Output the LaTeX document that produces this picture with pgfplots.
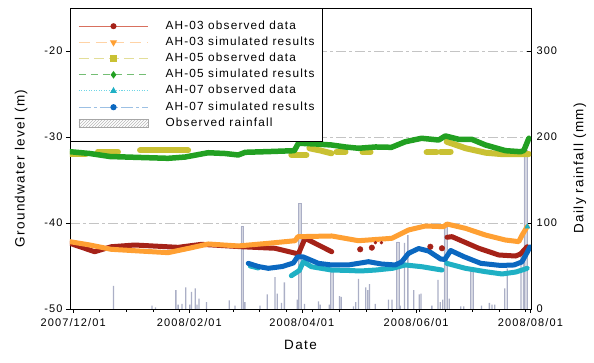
\documentclass[border=0pt]{standalone}
\usepackage{fontspec}
\setmainfont{Liberation Sans}[LetterSpace=10]
\usepackage{pgfplots}
\pgfplotsset{compat=1.18}
\usetikzlibrary{patterns}

\definecolor{ahthreeobs}{HTML}{A52218}
\definecolor{ahthreeobsl}{HTML}{D8705E}
\definecolor{ahthreesim}{HTML}{FFA033}
\definecolor{ahthreesiml}{HTML}{FFD3A6}
\definecolor{ahfiveobs}{HTML}{C9C133}
\definecolor{ahfiveobsl}{HTML}{E3DE98}
\definecolor{ahfivesim}{HTML}{22A022}
\definecolor{ahfivesiml}{HTML}{74BE74}
\definecolor{ahsevenobs}{HTML}{1FB0C4}
\definecolor{ahsevenobsl}{HTML}{6FD6E6}
\definecolor{ahsevensim}{HTML}{0B68C0}
\definecolor{ahsevensiml}{HTML}{9CC0E4}
\definecolor{rainc}{HTML}{ABAFC6}
\definecolor{gridc}{HTML}{C4C4C4}

\newcommand\tickfont{\fontsize{11}{13}\selectfont}
\newcommand\legfont{\fontsize{11.8}{13.5}\selectfont}
\newcommand\labfont{\fontsize{13.5}{16}\selectfont}

% x is the number of days after 2007/12/01
\pgfplotsset{
  frame/.style={
    scale only axis, width=461pt, height=301pt,
    xmin=-1.7, xmax=244.3,
    ticklabel style={font=\tickfont},
    label style={font=\labfont},
  },
  gw/.style={line width=5pt, line join=round, line cap=round, forget plot},
}

\begin{document}
\begin{tikzpicture}
\useasboundingbox (-70pt,-54pt) rectangle (524pt,309pt);
% daily rainfall, right-hand axis
\begin{axis}[frame,
  ymin=0, ymax=350,
  axis x line=none, axis y line*=right,
  y axis line style={-, line width=0.6pt},
  ytick={0,100,200,300}, yticklabels={0,100,200,300},
  tick align=inside, major tick length=4pt,
  ytick style={black, line width=0.6pt},
  yticklabel style={anchor=west, xshift=2pt},
  ymajorgrids, grid style={gridc, line width=0.6pt, dash pattern=on 10pt off 3pt on 3pt off 3pt},
  ylabel={Daily rainfall (mm)},
  ylabel style={at={(axis description cs:1.106,0.467)}, anchor=center, rotate=0},
]
\addplot[ybar, bar shift=0pt, bar width=0.7, fill=rainc, draw=none, forget plot] coordinates {
(21.5,27) (42.1,4) (43.9,2) (54.8,22) (56.0,5) (58.1,6) (60.1,25) (62.2,5) (63.1,20)
(65.1,24) (66.1,5) (67.1,12) (71.1,8) (83.3,10) (86.3,4) (91.6,8) (99.7,4) (103.6,17)
(107.7,37) (108.9,18) (111.2,7) (112.7,31) (119.6,11) (123.4,6) (130.9,9) (131.8,5)
(136.6,5) (142.1,15) (143.0,14) (149.6,3) (150.8,8) (152.2,35) (156.1,25) (157.2,22)
(158.1,29) (161.2,6) (168.3,11) (170.1,11) (174.5,4) (176.8,77) (178.6,86) (181.7,22)
(184.7,17) (185.6,18) (191.4,4) (194.7,34) (195.9,8) (197.2,11) (200.7,12) (206.8,3)
(208.4,3) (217.9,4) (222.1,7) (223.5,5) (225.0,5) (230.3,24) (231.6,47) (239.0,65) (240.3,65)
};
\addplot[ybar, bar shift=0pt, bar width=1.5, fill=rainc!50, draw=rainc, line width=0.4pt, forget plot] coordinates {
(90.2,96) (120.9,123) (138.0,45) (173.3,78) (198.6,100) (212.5,44) (241.3,185)
};
\end{axis}

% groundwater levels, left-hand axis
\begin{axis}[frame,
  ymin=-50, ymax=-15,
  axis line style={line width=0.6pt},
  tick pos=left,
  xtick={0,62,122,183,244},
  xticklabels={2007/12/01,2008/02/01,2008/04/01,2008/06/01,2008/08/01},
  minor xtick={14.2,28.4,...,242},
  ytick={-50,-40,-30,-20}, yticklabels={-50,-40,-30,-20},
  tick style={black, line width=0.6pt},
  tick align=outside, major tick length=4pt, minor tick length=3pt,
  xticklabel style={yshift=-1.5pt},
  xlabel={Date},
  xlabel style={at={(axis description cs:0.5,-0.12)}, anchor=center},
  ylabel={Groundwater level (m)},
  ylabel style={at={(axis description cs:-0.106,0.467)}, anchor=center},
  legend image code/.code={\draw[mark repeat=2,mark phase=2,#1] plot coordinates {(0pt,0pt) (34.5pt,0pt) (69pt,0pt)};},
  legend style={at={(0,1)}, anchor=north west, draw=black, line width=0.8pt, fill=white,
    font=\legfont, inner xsep=8pt, inner ysep=12.5pt, row sep=5.6pt, column sep=17pt,
    nodes={inner sep=0pt, text height=8.3pt, text depth=2.3pt}},
  legend cell align=left,
]
% AH-03 observed
\addplot[gw, ahthreeobs] coordinates {
(-1.76,-42.36) (11.44,-43.34) (20.32,-42.76) (32.83,-42.56) (55.99,-42.83) (68.45,-42.48)
(89.84,-42.76) (107.7,-42.94) (120.16,-43.6) (123.74,-41.78) (130.86,-42.56) (137.97,-43.34)
};
\addplot[only marks, mark=*, mark size=2.8pt, ahthreeobs, forget plot] coordinates {
(153.16,-43.06) (159.36,-42.87) (190.59,-42.76) (196.79,-42.94)
};
\addplot[only marks, mark=*, mark size=1.5pt, ahthreeobs, forget plot] coordinates {
(161.3,-42.29) (164.5,-42.29)
};
\addplot[gw, ahthreeobs] coordinates {
(199.47,-41.66) (202.14,-41.59) (216.42,-42.94) (227.11,-43.72) (236.04,-43.84) (238.72,-43.6) (242.25,-42.76)
};
% AH-03 simulated
\addplot[gw, ahthreesim] coordinates {
(-1.76,-42.17) (8.93,-42.56) (20.32,-43.06) (35.67,-43.26) (50.64,-43.45) (62.41,-42.91)
(72.03,-42.44) (88.07,-42.67) (104.12,-42.36) (118.4,-42.06) (119.9,-41.59) (137.97,-41.51)
(152.25,-42.06) (170.05,-41.78) (178.98,-40.81) (187.91,-40.35) (197.7,-40.43) (199.47,-40.12)
(209.3,-40.62) (220,-41.4) (230.7,-41.98) (237.8,-42.17) (239.57,-41.4) (242.25,-40.43)
};
% AH-05 observed
\addplot[gw, line width=6pt, ahfiveobs] coordinates {(-1.76,-31.98) (6.79,-31.98)};
\addplot[gw, line width=6pt, ahfiveobs] coordinates {(13.21,-31.69) (23.9,-31.69)};
\addplot[gw, line width=6pt, ahfiveobs] coordinates {(35.67,-31.57) (61.34,-31.57)};
\addplot[gw, line width=6pt, ahfiveobs] coordinates {(116.42,-32.09) (124.44,-32.09)};
\addplot[gw, line width=6pt, ahfiveobs] coordinates {(126.05,-31.31) (131.93,-31.57) (137.81,-31.9)};
\addplot[gw, line width=6pt, ahfiveobs] coordinates {(140.48,-31.71) (145.3,-31.71)};
\addplot[gw, line width=6pt, ahfiveobs] coordinates {(154.39,-31.78) (158.66,-31.78)};
\addplot[gw, line width=6pt, ahfiveobs] coordinates {(188.61,-31.78) (193.96,-31.78)};
\addplot[gw, line width=6pt, ahfiveobs] coordinates {(196.1,-31.71) (201.44,-31.71)};
\addplot[gw, line width=6pt, ahfiveobs] coordinates {
(199.3,-30.55) (209.46,-31.31) (220.16,-31.83) (228.18,-31.98) (243.16,-31.98)
};
% AH-05 simulated
\addplot[gw, line width=5.5pt, ahfivesim] coordinates {
(-1.76,-31.71) (8.93,-31.92) (19.63,-32.27) (35.67,-32.38) (50.64,-32.48) (59.73,-32.33)
(72.03,-31.83) (81.12,-31.92) (88.07,-32.09) (91.82,-31.78) (105.19,-31.69) (118.02,-31.59)
(120.16,-30.73) (129.25,-30.81) (137.81,-30.93) (145.3,-31.16) (152.25,-31.31) (161.34,-31.16)
(169.89,-31.2) (177.22,-30.55) (185.94,-30.15) (195.03,-30.35) (198.61,-29.88) (205.72,-30.27)
(212.67,-30.27) (220,-30.93) (230.7,-31.59) (238.72,-31.71) (240.48,-31.57) (243.16,-30.15)
};
% AH-07 observed
\addplot[gw, ahsevenobs] coordinates {(94.49,-45.0) (98.77,-45.23)};
\addplot[gw, ahsevenobs] coordinates {
(116.42,-46.13) (120.7,-45.52) (122.83,-44.5) (127.11,-45.08) (137.81,-45.47) (146.9,-45.52)
(153.3,-45.58) (161.34,-45.47) (170.43,-45.27) (177.22,-44.88) (185.94,-45.08) (196.79,-45.47)
};
\addplot[gw, ahsevenobs] coordinates {
(199.3,-44.69) (209.3,-45.27) (220,-45.66) (228.88,-45.93) (236.2,-45.7) (239.57,-45.47) (242.25,-45.27)
};
% AH-07 simulated
\addplot[gw, ahsevensim] coordinates {
(93.42,-44.69) (98.77,-45.06) (104.12,-45.27) (111.6,-45.06) (117.49,-44.65) (119.63,-43.95)
(122.83,-43.95) (130.86,-44.69) (137.81,-44.88) (146.9,-44.88) (152.25,-44.69) (157.59,-44.5)
(164.55,-44.77) (171.87,-44.88) (175.24,-44.53) (178.98,-43.52) (184.33,-42.97) (189.68,-43.26)
(196.1,-44.19) (198.24,-44.24) (201.44,-43.2) (208.56,-43.92) (217.49,-44.69) (228.18,-44.94)
(235.29,-44.88) (239.41,-44.53) (242.46,-43.34) (243.69,-42.79)
};
\addplot[only marks, mark=triangle*, mark size=3pt, ahsevenobs, forget plot] coordinates {(242.35,-40.43)};

% legend
\addlegendimage{ahthreeobsl, line width=1pt, solid, mark=*, mark size=2.5pt, mark options={fill=ahthreeobs, draw=ahthreeobs, solid}}
\addlegendentry{AH-03 observed data}
\addlegendimage{ahthreesiml, line width=1.2pt, dash pattern=on 11pt off 6pt, mark=triangle*, mark size=3pt, mark options={fill=ahthreesim, draw=ahthreesim, solid, rotate=180}}
\addlegendentry{AH-03 simulated results}
\addlegendimage{ahfiveobsl, line width=1.2pt, dash pattern=on 10pt off 5pt, mark=square*, mark size=2.5pt, mark options={fill=ahfiveobs, draw=ahfiveobs, solid}}
\addlegendentry{AH-05 observed data}
\addlegendimage{ahfivesiml, line width=1pt, dash pattern=on 7pt off 5pt, mark=diamond*, mark size=3pt, mark options={fill=ahfivesim, draw=ahfivesim, solid}}
\addlegendentry{AH-05 simulated results}
\addlegendimage{ahsevenobsl, line width=1pt, dash pattern=on 1pt off 1.5pt, mark=triangle*, mark size=3pt, mark options={fill=ahsevenobs, draw=ahsevenobs, solid}}
\addlegendentry{AH-07 observed data}
\addlegendimage{ahsevensiml, line width=1.2pt, dash pattern=on 12pt off 3pt on 3pt off 3pt, mark=*, mark size=2.5pt, mark options={fill=ahsevensim, draw=ahsevensim, solid}}
\addlegendentry{AH-07 simulated results}
\addlegendimage{legend image code/.code={\draw[draw=gray!70, line width=0.5pt, pattern=north east lines, pattern color=gray!55] (0pt,-4pt) rectangle (69pt,4pt);}}
\addlegendentry{Observed rainfall}
\end{axis}
\end{tikzpicture}
\end{document}
